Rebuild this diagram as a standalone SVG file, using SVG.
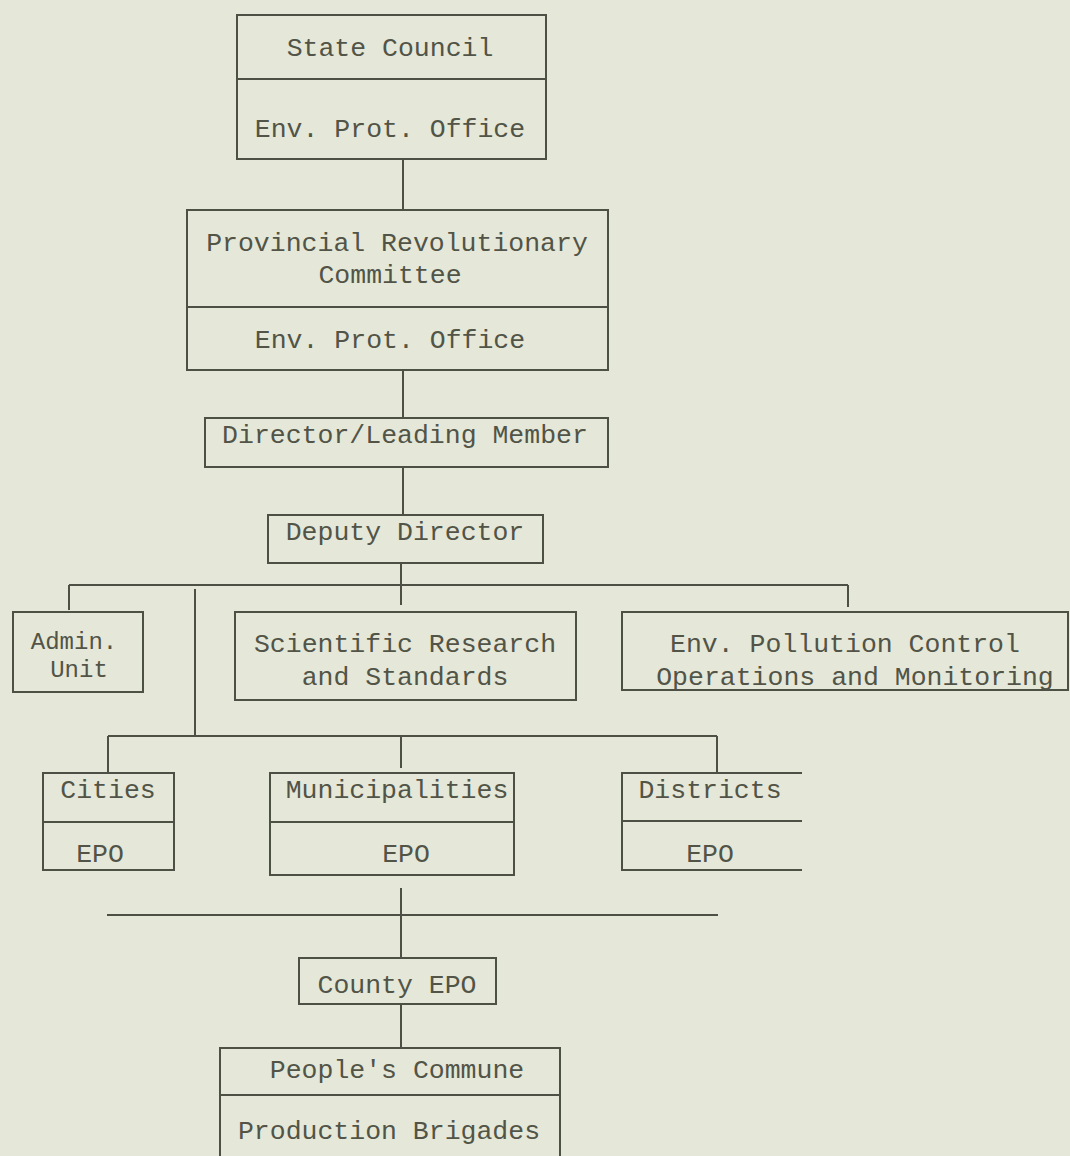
<svg xmlns="http://www.w3.org/2000/svg" width="1070" height="1156" viewBox="0 0 1070 1156">
<style>
.bx{fill:none;stroke:#4d5044;stroke-width:2}
.ln{fill:none;stroke:#4d5044;stroke-width:2}
.t{font-family:"Liberation Mono","Courier New",monospace;font-size:26.5px;fill:#515447;text-anchor:middle}
.s{font-size:24px}
</style>
<rect width="1070" height="1156" fill="#e5e7d8"/>
<g id="connectors">
<line class="ln" x1="403" y1="159" x2="403" y2="210"/>
<line class="ln" x1="403" y1="370" x2="403" y2="418"/>
<line class="ln" x1="403" y1="467" x2="403" y2="515"/>
<line class="ln" x1="401" y1="563" x2="401" y2="605"/>
<line class="ln" x1="69" y1="585" x2="848" y2="585"/>
<line class="ln" x1="69" y1="585" x2="69" y2="610"/>
<line class="ln" x1="848" y1="585" x2="848" y2="607"/>
<line class="ln" x1="195" y1="589" x2="195" y2="736"/>
<line class="ln" x1="108" y1="736" x2="717" y2="736"/>
<line class="ln" x1="108" y1="736" x2="108" y2="773"/>
<line class="ln" x1="401" y1="736" x2="401" y2="768"/>
<line class="ln" x1="717" y1="736" x2="717" y2="773"/>
<line class="ln" x1="401" y1="888" x2="401" y2="958"/>
<line class="ln" x1="107" y1="915" x2="718" y2="915"/>
<line class="ln" x1="401" y1="1004" x2="401" y2="1048"/>
</g>
<g id="state-council">
<rect class="bx" x="237" y="15" width="309" height="144"/>
<line class="ln" x1="237" y1="79" x2="546" y2="79"/>
<text class="t" x="390" y="56">State Council</text>
<text class="t" x="390" y="137">Env. Prot. Office</text>
</g>
<g id="provincial">
<rect class="bx" x="187" y="210" width="421" height="160"/>
<line class="ln" x1="187" y1="307" x2="608" y2="307"/>
<text class="t" x="397" y="251">Provincial Revolutionary</text>
<text class="t" x="390" y="283">Committee</text>
<text class="t" x="390" y="348">Env. Prot. Office</text>
</g>
<g id="director">
<rect class="bx" x="205" y="418" width="403" height="49"/>
<text class="t" x="405" y="443">Director/Leading Member</text>
</g>
<g id="deputy">
<rect class="bx" x="268" y="515" width="275" height="48"/>
<text class="t" x="405" y="540">Deputy Director</text>
</g>
<g id="admin">
<rect class="bx" x="13" y="612" width="130" height="80"/>
<text class="t s" x="74" y="649">Admin.</text>
<text class="t s" x="79" y="677">Unit</text>
</g>
<g id="science">
<rect class="bx" x="235" y="612" width="341" height="88"/>
<text class="t" x="405" y="652">Scientific Research</text>
<text class="t" x="405" y="685">and Standards</text>
</g>
<g id="pollution">
<rect class="bx" x="622" y="612" width="446" height="78"/>
<text class="t" x="845" y="652">Env. Pollution Control</text>
<text class="t" x="855" y="685">Operations and Monitoring</text>
</g>
<g id="cities">
<rect class="bx" x="43" y="773" width="131" height="97"/>
<line class="ln" x1="43" y1="822" x2="174" y2="822"/>
<text class="t" x="108" y="798">Cities</text>
<text class="t" x="100" y="862">EPO</text>
</g>
<g id="municipalities">
<rect class="bx" x="270" y="773" width="244" height="102"/>
<line class="ln" x1="270" y1="822" x2="514" y2="822"/>
<text class="t" x="397" y="798">Municipalities</text>
<text class="t" x="406" y="862">EPO</text>
</g>
<g id="districts">
<path class="bx" d="M802,773 H622 V870 H802"/>
<line class="ln" x1="622" y1="821" x2="802" y2="821"/>
<text class="t" x="710" y="798">Districts</text>
<text class="t" x="710" y="862">EPO</text>
</g>
<g id="county">
<rect class="bx" x="299" y="958" width="197" height="46"/>
<text class="t" x="397" y="993">County EPO</text>
</g>
<g id="commune">
<path class="bx" d="M220,1160 V1048 H560 V1160"/>
<line class="ln" x1="220" y1="1095" x2="560" y2="1095"/>
<text class="t" x="397" y="1078">People's Commune</text>
<text class="t" x="389" y="1139">Production Brigades</text>
</g>
</svg>
